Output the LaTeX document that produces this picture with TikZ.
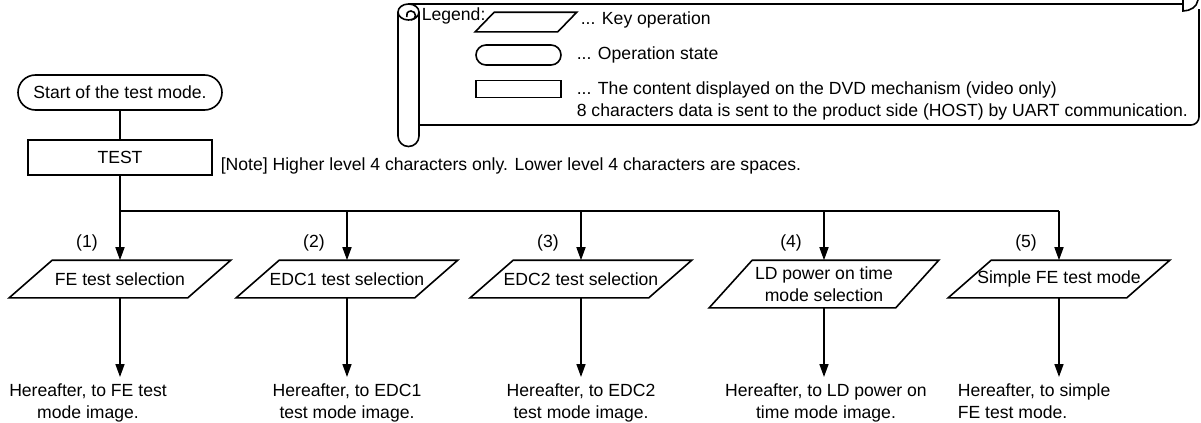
\documentclass[tikz,border=0pt]{standalone}
\usepackage{fontspec}
\setmainfont{Liberation Sans}
\usetikzlibrary{arrows.meta,shapes.misc}

\tikzset{
  keyop/.style={rectangle, minimum width=88.5pt, minimum height=18pt,
    inner sep=1pt, align=center},
  tallop/.style={minimum width=92.5pt, minimum height=23pt},
  opstate/.style={draw, rounded rectangle, minimum width=102pt,
    minimum height=17.5pt, inner sep=0pt},
  dispbox/.style={draw, rectangle, minimum width=92pt, minimum height=17.5pt,
    inner sep=0pt},
  flow/.style={-{Triangle[width=4.5pt,length=6.5pt]}},
  result/.style={inner xsep=0pt, inner ysep=3pt},
}

\begin{document}
\begin{tikzpicture}[x=0.5pt, y=-0.5pt, line width=0.8pt,
    font=\fontsize{8.8}{11}\selectfont]
  \useasboundingbox (0,0) rectangle (1201,423);

  % legend scroll
  \draw (408.5,4) -- (1183,4);
  \draw (1183,0) -- (1183,11) .. controls (1190,11) and (1197,7) .. (1198,0);
  \draw (1199,9) -- (1199,117) arc[start angle=0, end angle=90, radius=8] -- (419,125);
  \draw (398,12) -- (398,136) arc[start angle=180, end angle=0, radius=10.5] -- (419,12);
  \draw (408.5,12) ellipse[x radius=10.5, y radius=8];
  \draw (411,20) arc[start angle=90, end angle=-200, radius=4.5];
  \node[anchor=west, inner sep=0pt] (legend) at (421,16) {Legend:};
  \node[keyop, minimum width=40.5pt, minimum height=9pt, inner sep=0pt] (lkey) at (526,22) {};
  \draw ([xshift=4.75pt]lkey.north west) -- ([xshift=4.75pt]lkey.north east)
    -- ([xshift=-4.75pt]lkey.south east) -- ([xshift=-4.75pt]lkey.south west) -- cycle;
  \node[opstate, minimum width=42.5pt, minimum height=10pt] (lstate) at (518.5,55) {};
  \node[dispbox, minimum width=42.5pt, minimum height=8.5pt] (ldisp) at (518.5,89) {};
  \node[anchor=west, inner sep=0pt] (tkey) at (580,20) {... Key operation};
  \node[anchor=west, inner sep=0pt] (tstate) at (576,55) {... Operation state};
  \node[anchor=north west, inner sep=0pt, align=left] (tdisp) at (576,81)
    {... The content displayed on the DVD mechanism (video only)\\
     8 characters data is sent to the product side (HOST) by UART communication.};

  % main flow
  \node[opstate] (start) at (120,92.5) {Start of the test mode.};
  \node[dispbox] (test) at (120,157.5) {TEST};
  \node[anchor=west, inner sep=0pt] (note) at (220,166)
    {[Note] Higher level 4 characters only. Lower level 4 characters are spaces.};
  \draw (start) -- (test);

  \foreach \i/\x/\opt/\txt in {1/120//FE test selection, 2/347//EDC1 test selection,
      3/581//EDC2 test selection, 4/824/tallop/{LD power on time\\mode selection},
      5/1059//Simple FE test mode} {
    \coordinate (b\i) at (\x,211);
    \node[keyop,\opt] (k\i) at (\x,{\i==4 ? 284 : 279}) {\txt};
    \draw ([xshift=10.75pt]k\i.north west) -- ([xshift=10.75pt]k\i.north east)
      -- ([xshift=-10.75pt]k\i.south east) -- ([xshift=-10.75pt]k\i.south west) -- cycle;
    \node (n\i) at (\x-33,243) {(\i)};
    \draw[flow] (b\i) -- (k\i);
  }
  \draw (test) -- (b1) -- (b5);

  \node[result, anchor=north, align=center] (h1) at (88,377)
    {Hereafter, to FE test\\mode image.};
  \node[result, anchor=north, align=center] (h2) at (347,377)
    {Hereafter, to EDC1\\test mode image.};
  \node[result, anchor=north, align=center] (h3) at (581,377)
    {Hereafter, to EDC2\\test mode image.};
  \node[result, anchor=north, align=center] (h4) at (826,377)
    {Hereafter, to LD power on\\time mode image.};
  \node[result, anchor=north west, align=left] (h5) at (957,377)
    {Hereafter, to simple\\FE test mode.};
  \foreach \i in {1,...,5}
    \draw[flow] (k\i) -- (k\i |- h\i.north);
\end{tikzpicture}
\end{document}
